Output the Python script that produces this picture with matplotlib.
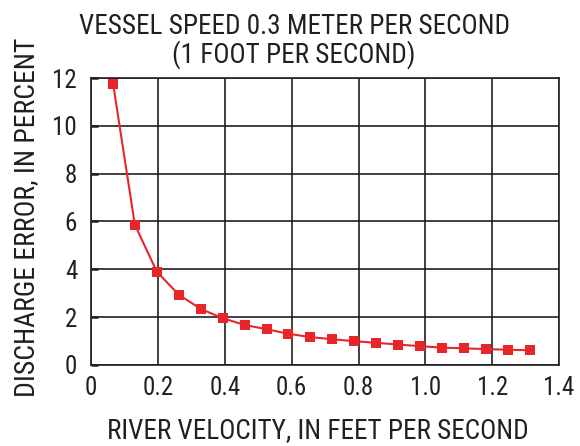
import matplotlib
matplotlib.use('Agg')
import matplotlib.pyplot as plt

# river velocity, ft/s, and discharge error, percent
velocity = [0.066, 0.131, 0.197, 0.262, 0.328, 0.394, 0.459, 0.525, 0.590, 0.656,
            0.722, 0.787, 0.853, 0.918, 0.984, 1.050, 1.115, 1.181, 1.247, 1.312]
error = [11.75, 5.86, 3.89, 2.94, 2.34, 1.95, 1.67, 1.49, 1.30, 1.16,
         1.07, 0.99, 0.92, 0.85, 0.78, 0.72, 0.69, 0.66, 0.63, 0.61]

xticks = [0, 0.2, 0.4, 0.6, 0.8, 1.0, 1.2, 1.4]
xticklabels = ['0', '0.2', '0.4', '0.6', '0.8', '1.0', '1.2', '1.4']
yticks = [0, 2, 4, 6, 8, 10, 12]

plt.rcParams['font.family'] = ['Roboto Condensed', 'Liberation Sans Narrow', 'Roboto', 'DejaVu Sans']
text_color = '#231f20'

fig = plt.figure(figsize=(5.8, 4.46), dpi=100)
ax = fig.add_axes([0.157, 0.182, 0.807, 0.643])

ax.plot(velocity, error, color='#e8262a', linewidth=1.5, marker='s',
        markersize=6.5, markeredgewidth=0, zorder=3)

ax.set_xlim(0, 1.4)
ax.set_ylim(0, 12)
ax.set_xticks(xticks)
ax.set_xticklabels(xticklabels)
ax.set_yticks(yticks)
ax.grid(True, color=text_color, linewidth=1.2)
for s in ax.spines.values():
    s.set_color(text_color)
    s.set_linewidth(1.2)
ax.tick_params(axis='both', direction='in', labelsize=18, colors=text_color)
ax.tick_params(axis='x', length=0, pad=8)
ax.tick_params(axis='y', length=5, width=1.8, pad=10)

# axis titles placed in figure coordinates
fig.text(0.548, 0.035, 'RIVER VELOCITY, IN FEET PER SECOND', fontsize=19.5,
         color=text_color, ha='center', va='center')
fig.text(0.045, 0.513, 'DISCHARGE ERROR, IN PERCENT', fontsize=20,
         color=text_color, ha='center', va='center', rotation=90)
fig.text(0.507, 0.908, 'VESSEL SPEED 0.3 METER PER SECOND\n(1 FOOT PER SECOND)',
         fontsize=19.5, color=text_color, ha='center', va='center',
         linespacing=1.05)

fig.savefig('out.png', dpi=100, facecolor='white')
